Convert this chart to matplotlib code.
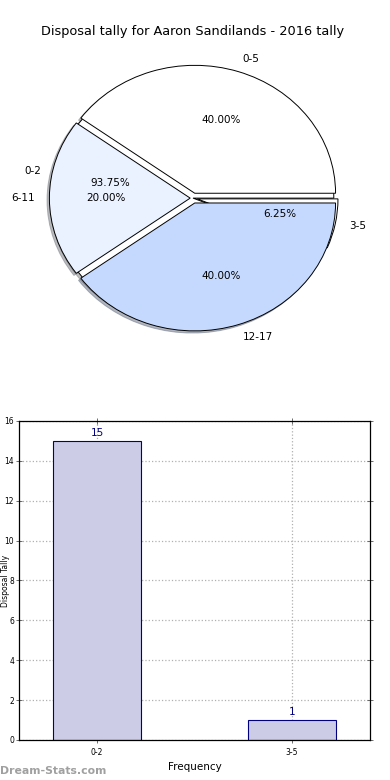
import numpy as np
import matplotlib
matplotlib.use('Agg')
import matplotlib.pyplot as plt

# data
title = 'Disposal tally for Aaron Sandilands - 2016 tally'
tally_labels = ['0-2', '3-5']
tally_values = [15, 1]
age_labels = ['0-5', '6-11', '12-17']
age_values = [2, 1, 2]
age_colors = ['#ffffff', '#eaf1ff', '#c5d9ff']


fig = plt.figure(figsize=(3.9, 7.8), dpi=100)

# pie part - two pies drawn on top of each other
ax1 = fig.add_axes([0.0436, 0.541, 0.9026, 0.41])
wp = dict(edgecolor='black', linewidth=0.7)
shadow = dict(ox=-0.012, oy=-0.012, shade=0.5)
ax1.pie(tally_values, labels=tally_labels, colors=['white', 'white'],
        autopct='%.2f%%', explode=[0, 0.03], shadow=shadow, wedgeprops=wp,
        textprops=dict(fontsize=7.5))
ax1.pie(age_values, labels=age_labels, colors=age_colors,
        autopct='%.2f%%', explode=[0.04, 0.02, 0.04], shadow=shadow, wedgeprops=wp,
        textprops=dict(fontsize=7.5))
ax1.set_aspect('auto')
ax1.set_xlim(-1.25, 1.25)
ax1.set_ylim(-1.25, 1.25)
ax1.set_title(title, fontsize=9.3, pad=2)

# bar part
ax2 = fig.add_axes([0.0487, 0.0513, 0.9, 0.409])
x = np.arange(len(tally_labels))
bars = ax2.bar(x, tally_values, width=0.45, color='#ccccE6', edgecolor='#000080', linewidth=0.8,
               zorder=2)
for b, v in zip(bars, tally_values):
    ax2.text(b.get_x() + b.get_width() / 2, v + 0.15, str(v), ha='center', va='bottom',
             color='#000080', fontsize=7.5, zorder=3)
ax2.set_xlim(-0.4, 1.4)
ax2.set_ylim(0, 16)
ax2.set_xticks(x)
ax2.set_xticklabels(tally_labels)
ax2.set_yticks(np.arange(0, 17, 2))
ax2.tick_params(labelsize=5.5, direction='inout', length=4, width=0.6,
                top=True, right=True, color='#555555')
ax2.tick_params(axis='y', pad=1.5)
ax2.grid(True, linestyle=':', color='#b0b0b0', linewidth=0.9, zorder=0)
ax2.set_axisbelow(True)
ax2.set_xlabel('Frequency', fontsize=7.5, labelpad=4)
ax2.set_ylabel('Disposal Tally', fontsize=5.5)
ax2.yaxis.set_label_coords(-0.027, 0.5)
for s in ax2.spines.values():
    s.set_linewidth(0.9)

fig.text(0.0, 0.005, 'Dream-Stats.com', fontsize=7.8, fontweight='bold', color='#a0a0a0',
         ha='left', va='bottom')

fig.savefig('out.png', dpi=100)
